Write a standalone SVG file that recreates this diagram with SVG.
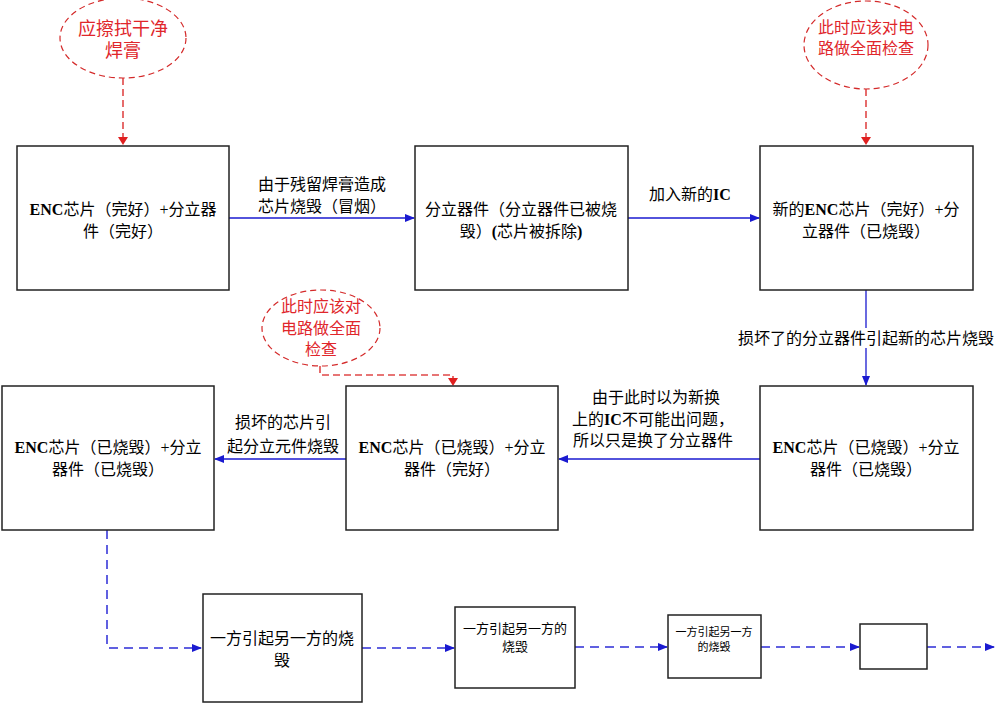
<svg xmlns="http://www.w3.org/2000/svg" width="996" height="703" viewBox="0 0 996 703">
<defs>
<style>
.box{fill:#fff;stroke:#222;stroke-width:1.5}
.t{font-family:"Liberation Serif","Noto Sans CJK SC",serif;font-size:16px;fill:#000;text-anchor:middle}
.s13{font-size:13px}
.s11{font-size:11px}
.b{font-weight:bold}
.r{font-family:"Liberation Serif","Noto Sans CJK SC",serif;fill:#e0262b;text-anchor:middle}
.ell{fill:#fff;stroke:#d42a2a;stroke-width:1.2;stroke-dasharray:6 4}
.solid{fill:none;stroke:#1a1ad0;stroke-width:1.3}
.dash{fill:none;stroke:#6060e0;stroke-width:2;stroke-dasharray:9 6}
.rdash{fill:none;stroke:#e04848;stroke-width:1.6;stroke-dasharray:7 4}
</style>
<marker id="ab" markerWidth="10" markerHeight="8" refX="9" refY="4" orient="auto" markerUnits="userSpaceOnUse"><path d="M0,0 L10,4 L0,8 z" fill="#1a1ad0"/></marker>
<marker id="ar" markerWidth="8" markerHeight="10" refX="7" refY="5" orient="auto" markerUnits="userSpaceOnUse"><path d="M0,0 L8,5 L0,10 z" fill="#e02020"/></marker>
</defs>

<g id="connectors">
<line class="rdash" x1="123" y1="78" x2="123" y2="144" marker-end="url(#ar)"/>
<line class="rdash" x1="866" y1="89" x2="866" y2="144" marker-end="url(#ar)"/>
<polyline class="rdash" points="320,366 320,375 453,375 453,385" marker-end="url(#ar)"/>
<line class="solid" x1="229" y1="218" x2="414" y2="218" marker-end="url(#ab)"/>
<line class="solid" x1="628" y1="218" x2="759" y2="218" marker-end="url(#ab)"/>
<line class="solid" x1="866" y1="290" x2="866" y2="385" marker-end="url(#ab)"/>
<line class="solid" x1="760" y1="459" x2="559" y2="459" marker-end="url(#ab)"/>
<line class="solid" x1="346" y1="459" x2="215" y2="459" marker-end="url(#ab)"/>
<polyline class="dash" points="107,530 107,648 201,648" marker-end="url(#ab)"/>
<line class="dash" x1="362" y1="648" x2="454" y2="648" marker-end="url(#ab)"/>
<line class="dash" x1="575" y1="647" x2="667" y2="647" marker-end="url(#ab)"/>
<line class="dash" x1="761" y1="647" x2="859" y2="647" marker-end="url(#ab)"/>
<line class="dash" x1="927" y1="647" x2="994" y2="647" marker-end="url(#ab)"/>
<rect x="737" y="328" width="258" height="20" fill="#fff"/>
<text class="t" x="322" y="190">由于残留焊膏造成</text>
<text class="t" x="322" y="212">芯片烧毁（冒烟）</text>
<text class="t" x="690" y="200">加入新的<tspan class="b">IC</tspan></text>
<text class="t" x="866" y="344">损坏了的分立器件引起新的芯片烧毁</text>
<text class="t" x="656" y="403">由于此时以为新换</text>
<text class="t" x="653" y="425">上的<tspan class="b">IC</tspan>不可能出问题，</text>
<text class="t" x="653" y="446">所以只是换了分立器件</text>
<text class="t" x="283" y="428">损坏的芯片引</text>
<text class="t" x="283" y="452">起分立元件烧毁</text>
</g>

<g id="note1">
<ellipse class="ell" cx="123" cy="38" rx="63" ry="40"/>
<text class="r" x="123" y="35" font-size="18">应擦拭干净</text>
<text class="r" x="123" y="57" font-size="18">焊膏</text>
</g>
<g id="note2">
<ellipse class="ell" cx="866" cy="45" rx="62" ry="44"/>
<text class="r" x="866" y="33" font-size="16">此时应该对电</text>
<text class="r" x="866" y="54" font-size="16">路做全面检查</text>
</g>
<g id="note3">
<ellipse class="ell" cx="321" cy="328" rx="59" ry="38"/>
<text class="r" x="321" y="312" font-size="16">此时应该对</text>
<text class="r" x="321" y="334" font-size="16">电路做全面</text>
<text class="r" x="321" y="355" font-size="16">检查</text>
</g>

<g id="box1">
<rect class="box" x="17" y="146" width="212" height="144"/>
<text class="t" x="123" y="215"><tspan class="b">ENC</tspan>芯片（完好）+分立器</text>
<text class="t" x="123" y="237">件（完好）</text>
</g>
<g id="box2">
<rect class="box" x="415" y="146" width="213" height="144"/>
<text class="t" x="521" y="215">分立器件（分立器件已被烧</text>
<text class="t" x="521" y="237">毁）<tspan class="b">(</tspan>芯片被拆除<tspan class="b">)</tspan></text>
</g>
<g id="box3">
<rect class="box" x="760" y="146" width="213" height="144"/>
<text class="t" x="866" y="215">新的<tspan class="b">ENC</tspan>芯片（完好）+分</text>
<text class="t" x="866" y="237">立器件（已烧毁）</text>
</g>
<g id="box4">
<rect class="box" x="760" y="386" width="213" height="144"/>
<text class="t" x="866" y="453"><tspan class="b">ENC</tspan>芯片（已烧毁）+分立</text>
<text class="t" x="866" y="475">器件（已烧毁）</text>
</g>
<g id="box5">
<rect class="box" x="346" y="386" width="212" height="144"/>
<text class="t" x="452" y="453"><tspan class="b">ENC</tspan>芯片（已烧毁）+分立</text>
<text class="t" x="452" y="475">器件（完好）</text>
</g>
<g id="box6">
<rect class="box" x="2" y="386" width="212" height="144"/>
<text class="t" x="108" y="453"><tspan class="b">ENC</tspan>芯片（已烧毁）+分立</text>
<text class="t" x="108" y="475">器件（已烧毁）</text>
</g>
<g id="box7">
<rect class="box" x="203" y="594" width="159" height="108"/>
<text class="t" x="282" y="644">一方引起另一方的烧</text>
<text class="t" x="282" y="666">毁</text>
</g>
<g id="box8">
<rect class="box" x="455" y="607" width="120" height="81"/>
<text class="t s13" x="515" y="633">一方引起另一方的</text>
<text class="t s13" x="515" y="651">烧毁</text>
</g>
<g id="box9">
<rect class="box" x="668" y="615" width="93" height="63"/>
<text class="t s11" x="714" y="636">一方引起另一方</text>
<text class="t s11" x="714" y="651">的烧毁</text>
</g>
<g id="box10">
<rect class="box" x="860" y="624" width="67" height="45"/>
</g>
</svg>
